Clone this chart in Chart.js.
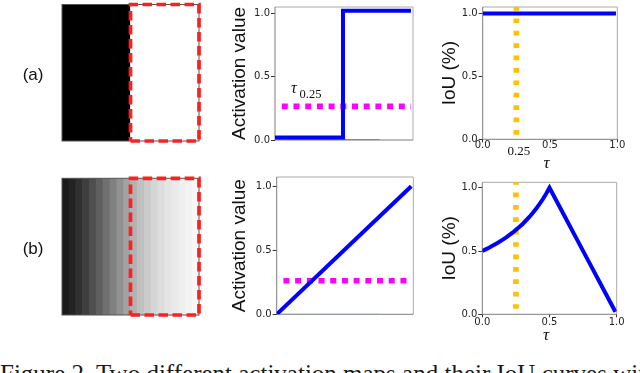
<!DOCTYPE html>
<html><head><meta charset="utf-8">
<script src="https://cdn.jsdelivr.net/npm/chart.js@4.4.1/dist/chart.umd.min.js"></script>
<style>
html,body{margin:0;padding:0;background:#fff;}
#wrap{position:relative;width:640px;height:373px;overflow:hidden;background:#fff;}
canvas{position:absolute;}
.lbl{position:absolute;font:17px 'Liberation Sans',Arial,sans-serif;line-height:1;color:#111;white-space:nowrap;}
#caption{position:absolute;left:0;top:360.6px;font:25px 'Liberation Serif','Times New Roman',serif;line-height:1;white-space:nowrap;color:#1a1a1a;}
</style></head>
<body><div id="wrap">
<canvas id="imgA" width="220" height="170" style="left:0;top:0"></canvas>
<canvas id="imgB" width="220" height="170" style="left:0;top:170px"></canvas>
<canvas id="actA" width="200" height="170" style="left:220px;top:0"></canvas>
<canvas id="actB" width="200" height="175" style="left:220px;top:170px"></canvas>
<canvas id="iouA" width="220" height="180" style="left:420px;top:0"></canvas>
<canvas id="iouB" width="220" height="190" style="left:420px;top:170px"></canvas>
<div class="lbl" style="left:22.7px;top:66.3px">(a)</div>
<div class="lbl" style="left:22.7px;top:239.6px">(b)</div>
<div id="caption">Figure 2. Two different activation maps and their IoU curves with respect to τ</div>
</div>
<script>
// ---------------- data ----------------
// image column intensities (0 = black, 255 = white), left to right
const imgAIntensity = [0, 255];
const imgBIntensity = [26, 35, 48, 62, 78, 95, 112, 128, 145, 162, 178, 192, 203, 213, 221, 228, 234, 239, 243, 247];
const imgHeight = 1;
// red dashed ground-truth box (fraction of image)
const roiX = [0.5, 1.0, 1.0, 0.5, 0.5];
const roiY = [0, 0, 1, 1, 0];

// activation profiles
const actAX = [0, 0.5, 0.5, 1.0];
const actAY = [0.02, 0.02, 1.02, 1.02];
const actBX = [0, 1.0];
const actBY = [0, 1.0];
const baseX = [0, 0.77];
const baseY = [0, 0];
const tauLineX = [0.05, 1.0];
const tauLevelA = 0.265;
const tauLevelB = 0.262;

// IoU curves
const iouAX = [0, 0.99];
const iouAY = [1.0, 1.0];
const iouBX = [0, 0.025, 0.05, 0.075, 0.1, 0.125, 0.15, 0.175, 0.2, 0.225, 0.25, 0.275, 0.3, 0.325, 0.35, 0.375, 0.4, 0.425, 0.45, 0.475, 0.5, 0.6, 0.7, 0.8, 0.9, 0.99];
const iouBY = [0.500, 0.513, 0.526, 0.541, 0.556, 0.571, 0.588, 0.606, 0.625, 0.645, 0.667, 0.690, 0.714, 0.741, 0.769, 0.800, 0.833, 0.870, 0.909, 0.952, 1.000, 0.80, 0.60, 0.40, 0.20, 0.02];
const tauMark = 0.25;
const tauMarkY = [1.06, 0];

const tickValues = [0, 0.5, 1.0];

// ---------------- helpers ----------------
const pts = (xs, ys) => xs.map((x, i) => ({x, y: ys[i]}));
const SANS = "'DejaVu Sans', sans-serif";
const ARIAL = "'Liberation Sans', Arial, sans-serif";
const SERIF = "'Liberation Serif', 'Times New Roman', serif";

const spines = {
  id: 'spines',
  beforeDatasetsDraw(chart) {
    const {ctx, chartArea: a} = chart;
    ctx.save();
    ctx.lineWidth = 1;
    ctx.strokeStyle = '#ababab';
    ctx.beginPath(); ctx.moveTo(a.left, a.top); ctx.lineTo(a.right, a.top); ctx.lineTo(a.right, a.bottom); ctx.stroke();
    ctx.strokeStyle = '#7c7c7c';
    ctx.beginPath(); ctx.moveTo(a.right, a.bottom); ctx.lineTo(a.left, a.bottom); ctx.lineTo(a.left, a.top); ctx.stroke();
    ctx.restore();
  }
};

const imgFrame = {
  id: 'imgFrame',
  afterDatasetDraw(chart, args) {
    if (args.meta.type !== 'bar') return;
    const {ctx, chartArea: a} = chart;
    ctx.save();
    ctx.strokeStyle = '#555';
    ctx.lineWidth = 1;
    ctx.strokeRect(a.left, a.top, a.right - a.left, a.bottom - a.top);
    ctx.restore();
  }
};

function yScale(max, width, title, padTop) {
  return {
    type: 'linear', min: 0, max,
    afterBuildTicks: s => { s.ticks = tickValues.map(v => ({value: v})); },
    afterFit: s => { s.width = width; },
    ticks: {callback: v => Number(v).toFixed(1), font: {family: SANS, size: 10}, color: '#222', padding: 1},
    grid: {drawOnChartArea: false, drawTicks: true, tickLength: 4, color: '#333'},
    border: {display: false},
    title: {display: true, text: title, font: {family: ARIAL, size: 19, lineHeight: 1.2}, color: '#111', padding: {top: padTop, bottom: 0}}
  };
}

function xScaleIoU(H, tickPad, titlePadBottom) {
  return {
    type: 'linear', min: 0, max: 1,
    afterBuildTicks: s => { s.ticks = tickValues.map(v => ({value: v})); },
    afterFit: s => { s.height = H; },
    ticks: {callback: v => Number(v).toFixed(1), font: {family: SANS, size: 10}, color: '#222', padding: tickPad, maxRotation: 0, autoSkip: false},
    grid: {drawOnChartArea: false, drawTicks: true, tickLength: 3, color: '#333'},
    border: {display: false},
    title: {display: true, text: 'τ\u2009\u2009', font: {family: SERIF, size: 17, style: 'italic', lineHeight: 1.2}, color: '#111', padding: {top: 0, bottom: titlePadBottom}}
  };
}

const common = {
  responsive: false, animation: false, events: [],
  plugins: {legend: {display: false}, tooltip: {enabled: false}, title: {display: false}},
  elements: {point: {radius: 0}, line: {tension: 0, borderCapStyle: 'butt', borderJoinStyle: 'miter', fill: false}}
};

// ---------------- image panels ----------------
function imageChart(id, intensity, pad) {
  return new Chart(document.getElementById(id), {
    type: 'bar',
    data: {
      labels: intensity.map((_, i) => String(i)),
      datasets: [
        {type: 'line', order: 0, xAxisID: 'xb', data: pts(roiX, roiY), borderColor: '#ff1f1f', borderWidth: 3.7, borderDash: [9.5, 4.5], clip: false},
        {type: 'bar', order: 1, grouped: false, data: intensity.map(() => imgHeight), backgroundColor: intensity.map(v => `rgb(${v},${v},${v})`), borderWidth: 0, barPercentage: 1, categoryPercentage: 1}
      ]
    },
    options: Object.assign({}, common, {
      layout: {padding: pad},
      scales: {
        x: {type: 'category', offset: true, display: false},
        xb: {type: 'linear', min: 0, max: 1, offset: false, display: false},
        y: {type: 'linear', min: 0, max: 1, offset: false, display: false}
      }
    }),
    plugins: [imgFrame]
  });
}
imageChart('imgA', imgAIntensity, {left: 62, right: 21, top: 4.5, bottom: 29});
imageChart('imgB', imgBIntensity, {left: 62, right: 21, top: 8.3, bottom: 25});

// ---------------- activation plots ----------------
const tauLabel = {
  id: 'tauLabel',
  afterDraw(chart) {
    const {ctx} = chart;
    ctx.save();
    ctx.fillStyle = '#111';
    ctx.textBaseline = 'alphabetic';
    ctx.textAlign = 'left';
    ctx.font = `italic 16px ${SERIF}`;
    ctx.fillText('τ', 71, 92.7);
    ctx.font = `12.5px ${SERIF}`;
    ctx.fillText('0.25', 79.5, 97.7);
    ctx.restore();
  }
};

function actChart(id, lineX, lineY, tauLevel, baseColor, ymax, yw, pad, extra) {
  return new Chart(document.getElementById(id), {
    type: 'line',
    data: {
      datasets: [
        {data: pts(lineX, lineY), borderColor: '#0000ff', borderWidth: 4},
        {data: pts(tauLineX, tauLineX.map(() => tauLevel)), borderColor: '#ff00ff', borderWidth: 5.7, borderDash: [6, 5.7]},
        {data: pts(baseX, baseY), borderColor: baseColor, borderWidth: 1.2}
      ]
    },
    options: Object.assign({}, common, {
      layout: {padding: pad},
      scales: {
        x: {type: 'linear', min: 0, max: 1.015, display: false},
        y: yScale(ymax, yw, 'Activation value', 8)
      }
    }),
    plugins: [spines].concat(extra)
  });
}
actChart('actA', actAX, actAY, tauLevelA, '#1d5f8a', 1.05, 55, {left: 0, top: 4.7, right: 7, bottom: 30}, [tauLabel]);
actChart('actB', actBX, actBY, tauLevelB, '#93b5d6', 1.072, 56.7, {left: 0, top: 6.7, right: 6.7, bottom: 30.7}, []);

// ---------------- IoU plots ----------------
const tauTick = {
  id: 'tauTick',
  afterDraw(chart) {
    const {ctx} = chart;
    const x = chart.scales.x.getPixelForValue(tauMark) + 2.5;
    ctx.save();
    ctx.fillStyle = '#111';
    ctx.textAlign = 'center';
    ctx.textBaseline = 'alphabetic';
    ctx.font = `13px ${SERIF}`;
    ctx.fillText(String(tauMark), x, 155);
    ctx.restore();
  }
};

function iouChart(id, xs, ys, ymax, yw, pad, H, tickPad, titlePad, extra) {
  return new Chart(document.getElementById(id), {
    type: 'line',
    data: {
      datasets: [
        {data: pts(xs, ys), borderColor: '#0000ff', borderWidth: 4},
        {data: pts([tauMark, tauMark], tauMarkY), borderColor: '#ffc000', borderWidth: 5.7, borderDash: [4.7, 7.7]}
      ]
    },
    options: Object.assign({}, common, {
      layout: {padding: pad},
      scales: {
        x: xScaleIoU(H, tickPad, titlePad),
        y: yScale(ymax, yw, 'IoU (%)', 18.3)
      }
    }),
    plugins: [spines].concat(extra)
  });
}
iouChart('iouA', iouAX, iouAY, 1.052, 62.7, {left: 0, top: 5, right: 22.7, bottom: 4.7}, 36, -2.6, 1.8, [tauTick]);
iouChart('iouB', iouBX, iouBY, 1.043, 62.3, {left: 0, top: 12.3, right: 23.3, bottom: 11.7}, 34, -0.5, 2.1, []);
</script>
</body></html>
